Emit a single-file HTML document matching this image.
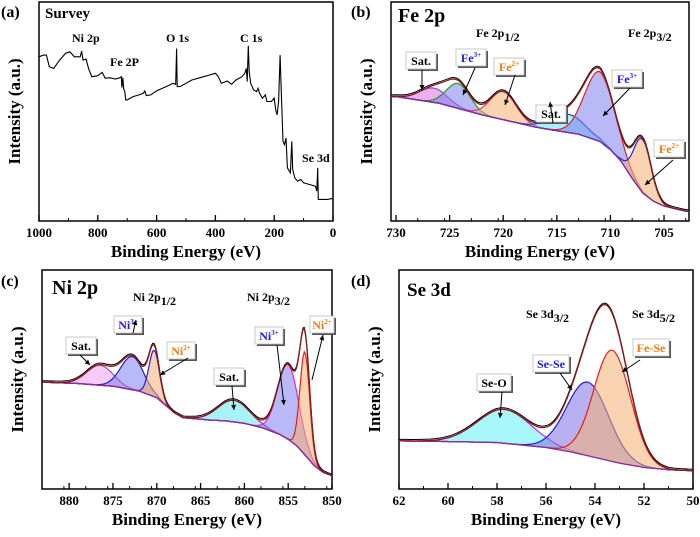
<!DOCTYPE html>
<html><head><meta charset="utf-8">
<style>
body{margin:0;background:#fff;}
svg{display:block;font-family:"Liberation Serif",serif;font-weight:bold;}
</style></head>
<body>
<svg id="fig" width="700" height="537" viewBox="0 0 700 537" xmlns="http://www.w3.org/2000/svg"></svg>
<script>
// ---------- Data (intensity in arbitrary units, 0 = axis bottom, 660 = axis top) ----------
// (a) Survey spectrum
const surveyEnergy = [1000,985,975,965,950,930,910,895,880,860,855,850,840,830,820,800,785,775,760,740,725,720,718,715,712,708,705,700,680,660,645,640,635,620,600,580,560,545,535,532,530,520,500,480,460,440,420,400,390,380,360,345,330,310,300,295,292,288,285,280,270,260,255,250,240,230,225,210,200,195,190,185,180,175,170,165,160,155,145,140,137,130,120,110,100,80,60,55,52,50,40,20,0];
const surveyIntensity = [495,500,500,465,460,485,505,510,495,495,512,485,488,455,435,438,448,430,432,428,432,435,402,432,398,390,365,365,375,380,385,392,378,380,392,400,408,415,412,520,405,405,415,425,430,435,440,445,435,415,422,412,425,435,445,460,420,528,450,415,395,390,400,385,370,380,360,360,370,335,320,360,500,370,240,230,250,160,145,240,155,130,120,125,115,110,105,90,160,65,65,65,68];
const surveyTicks = [1000,800,600,400,200,0];

// (b) Fe 2p
const feBgEnergy = [731,730,726,722,719,717,715,713,711,710,709,708,707,706,705,703,702];
const feBgIntensity = [375,375,355,320,298,283,272,262,240,215,180,130,85,60,45,30,28];
const fePeakNames = ["Sat.","Fe3+","Fe2+","Sat.","Fe3+","Fe2+"];
const fePeakCenters = [726.5,724.2,720.0,714.0,711.0,707.0];
const fePeakHeights = [43,75,85,55,210,160];
const fePeakWidths = [1.3,1.1,1.2,1.6,1.4,0.8];
const feTicks = [730,725,720,715,710,705];

// (c) Ni 2p
const niBgEnergy = [884,883,879,875,872,870,868,867,864,862,860,858,856,855,854,853,852,851,850];
const niBgIntensity = [322,322,318,310,295,275,230,215,208,205,198,185,165,150,130,100,70,50,40];
const niPeakNames = ["Sat.","Ni3+","Ni2+","Sat.","Ni3+","Ni2+"];
const niPeakCenters = [876.5,872.8,870.3,861.2,855.0,853.1];
const niPeakHeights = [60,100,140,65,225,310];
const niPeakWidths = [1.5,1.3,0.6,1.8,1.2,0.55];
const niTicks = [880,875,870,865,860,855,850];

// (d) Se 3d
const seBgEnergy = [62,60,58,56,55,54,53,52,51,50];
const seBgIntensity = [145,143,140,125,112,95,78,65,58,55];
const sePeakNames = ["Se-O","Se-Se","Fe-Se"];
const sePeakCenters = [57.7,54.3,53.3];
const sePeakHeights = [102,222,335];
const sePeakWidths = [1.1,0.85,0.75];
const seTicks = [62,60,58,56,54,52,50];

// ---------- drawing ----------
const NS = "http://www.w3.org/2000/svg";
const fig = document.getElementById('fig');
function mk(tag, attrs, parent){
  const e = document.createElementNS(NS, tag);
  for (const k in attrs) e.setAttribute(k, attrs[k]);
  (parent||fig).appendChild(e);
  return e;
}
function interp(xs, ys, x){
  if (x >= xs[0]) return ys[0];
  for (let i=0;i<xs.length-1;i++){
    if (x <= xs[i] && x >= xs[i+1]){
      const t = (xs[i]-x)/(xs[i]-xs[i+1]);
      return ys[i] + t*(ys[i+1]-ys[i]);
    }
  }
  return ys[ys.length-1];
}
function gauss(x,c,h,w){ return h*Math.exp(-((x-c)*(x-c))/(2*w*w)); }

function makeAxes(P){
  const sx = e => P.l + (P.x0 - e)/(P.x0 - P.x1)*(P.r - P.l);
  const sy = v => P.b - v/660*(P.b - P.t);
  return {sx, sy};
}
function frame(P, ticks, minorStep, name){
  const g = mk('g', {});
  
  
  const {sx} = makeAxes(P);
  const r = mk('rect', {x:P.l, y:P.t, width:P.r-P.l, height:P.b-P.t, fill:'none', stroke:'#000', 'stroke-width':1.5}, g);
  
  
  for (let e = P.x0; e >= P.x1 - 1e-9; e -= minorStep){
    const x = sx(e);
    if (x < P.l-0.5 || x > P.r+0.5) continue;
    mk('line', {x1:x, x2:x, y1:P.b, y2:P.b-3, stroke:'#000', 'stroke-width':1}, g);
  }
  ticks.forEach(tk => {
    const x = sx(tk);
    mk('line', {x1:x, x2:x, y1:P.b, y2:P.b-6, stroke:'#000', 'stroke-width':1.3}, g);
    const t = mk('text', {x:x, y:P.b+16, 'text-anchor':'middle', 'font-size':13}, g);
    t.textContent = tk;
    
    
  });
  const xt = mk('text', {x:(P.l+P.r)/2, y:P.b+36, 'text-anchor':'middle', 'font-size':17}, g);
  xt.textContent = 'Binding Energy (eV)';
  
  
  const cy = (P.t+P.b)/2, cx = P.l - 19;
  const yt = mk('text', {x:cx, y:cy, 'text-anchor':'middle', 'font-size':17, transform:`rotate(-90 ${cx} ${cy})`}, g);
  yt.textContent = 'Intensity (a.u.)';
  
  
  return sx;
}
function text(x,y,str,size,name,fill,anchor){
  const t = mk('text', {x, y, 'font-size':size, fill:fill||'#000', 'text-anchor':anchor||'start'});
  t.textContent = str;
  
  
  return t;
}
function subText(x,y,main,sub,size,name){
  const t = mk('text', {x, y, 'font-size':size});
  
  
  const a = mk('tspan', {}, t); a.textContent = main;
  const b = mk('tspan', {dy:4, 'font-size':size}, t); b.textContent = sub;
}
function labelBox(x,y,w,base,sup,color,name, ax, ay, bx, by){
  const g = mk('g', {});
  
  
  mk('rect', {x:x+2, y:y+2, width:w, height:17, fill:'#555'}, g);
  mk('rect', {x:x, y:y, width:w, height:17, fill:'#fff', stroke:'#bbb', 'stroke-width':0.8}, g);
  const t = mk('text', {x:x+w/2, y:y+13, 'text-anchor':'middle', 'font-size':12, fill:color}, g);
  const a = mk('tspan', {}, t); a.textContent = base;
  if (sup){ const s = mk('tspan', {dy:-5, 'font-size':7}, t); s.textContent = sup; }
  if (ax !== undefined){
    mk('line', {x1:ax, y1:ay, x2:bx, y2:by, stroke:'#000', 'stroke-width':1}, g);
    const ang = Math.atan2(by-ay, bx-ax);
    const hx = bx - 5*Math.cos(ang), hy = by - 5*Math.sin(ang);
    mk('polygon', {points:`${bx},${by} ${hx+2.5*Math.sin(ang)},${hy-2.5*Math.cos(ang)} ${hx-2.5*Math.sin(ang)},${hy+2.5*Math.cos(ang)}`, fill:'#000'}, g);
  }
}

function fitPanel(P, bgE, bgI, centers, heights, widths, fills, strokes, name){
  const {sx, sy} = makeAxes(P);
  const N = 220;
  const es = [];
  for (let i=0;i<=N;i++) es.push(P.x0 - (P.x0-P.x1)*i/N);
  const bg = es.map(e => interp(bgE, bgI, e));
  centers.forEach((c,k) => {
    const top = es.map((e,i) => bg[i] + gauss(e, c, heights[k], widths[k]));
    let d = 'M' + es.map((e,i)=> sx(e).toFixed(1)+','+sy(top[i]).toFixed(1)).join(' L');
    for (let i=N;i>=0;i--) d += ' L'+sx(es[i]).toFixed(1)+','+sy(bg[i]).toFixed(1);
    const p = mk('path', {d: d+'Z', fill:fills[k], 'fill-opacity':0.55, stroke:'none'});
    
    
    const l = mk('path', {d:'M'+es.map((e,i)=> sx(e).toFixed(1)+','+sy(top[i]).toFixed(1)).join(' L'), fill:'none', stroke:strokes[k], 'stroke-width':1.2});
    
    
  });
  const bl = mk('path', {d:'M'+es.map((e,i)=> sx(e).toFixed(1)+','+sy(bg[i]).toFixed(1)).join(' L'), fill:'none', stroke:'#8030a0', 'stroke-width':1.3});
  
  
  const env = es.map((e,i) => bg[i] + centers.reduce((s,c,k)=> s + gauss(e,c,heights[k],widths[k]), 0));
  const raw = mk('path', {d:'M'+es.map((e,i)=> sx(e).toFixed(1)+','+(sy(env[i])-1.5).toFixed(1)).join(' L'), fill:'none', stroke:'#000', 'stroke-width':1});
  
  
  const en = mk('path', {d:'M'+es.map((e,i)=> sx(e).toFixed(1)+','+sy(env[i]).toFixed(1)).join(' L'), fill:'none', stroke:'#8b1a1a', 'stroke-width':1.3});
  
  
}

// Panel (a)
const PA = {l:39, r:333, t:2, b:221, x0:1000, x1:0};
frame(PA, surveyTicks, 100, 'survey');
(function(){
  const {sx, sy} = makeAxes(PA);
  const p = mk('path', {d:'M'+surveyEnergy.map((e,i)=> sx(e).toFixed(1)+','+sy(surveyIntensity[i]).toFixed(1)).join(' L'), fill:'none', stroke:'#000', 'stroke-width':1.1});
  
  
})();
text(1,17,'(a)',16,'panel-label-a');
text(45,18,'Survey',15,'survey-title');
text(72,42,'Ni 2p',12,'survey-ni2p-label');
text(110,66,'Fe 2P',12,'survey-fe2p-label');
text(166,42,'O 1s',12,'survey-o1s-label');
text(240,42,'C 1s',12,'survey-c1s-label');
text(302,162,'Se 3d',12,'survey-se3d-label');

// Panel (b)
const PB = {l:391, r:689, t:2, b:221, x0:730.47, x1:702.67};
frame(PB, feTicks, 2.5, 'fe2p');
fitPanel(PB, feBgEnergy, feBgIntensity, fePeakCenters, fePeakHeights, fePeakWidths,
  ['#e070e0','#8080f0','#f5b070','#60e0f8','#8080f0','#f5b070'],
  ['#9050d0','#20a020','#d04080','#2040c0','#e02020','#2020e0'], 'fe2p');
text(351,17,'(b)',16,'panel-label-b');
text(398,22,'Fe 2p',20,'fe2p-title');
subText(476,37,'Fe 2p','1/2',12,'fe2p-half-label');
subText(628,37,'Fe 2p','3/2',12,'fe2p-threehalf-label');
labelBox(406,52,30,'Sat.','','#000','label-sat-1',422,70,422,90);
labelBox(456,49,30,'Fe','3+','#1a1aee','label-fe3-1',475,68,463,95);
labelBox(494,58,30,'Fe','2+','#f07a10','label-fe2-1',515,75,505,105);
labelBox(536,105,30,'Sat.','','#000','label-sat-2',553,123,550,102);
labelBox(612,70,30,'Fe','3+','#1a1aee','label-fe3-2',630,88,603,116);
labelBox(654,140,30,'Fe','2+','#f07a10','label-fe2-2',673,160,645,185);

// Panel (c)
const PC = {l:42, r:332, t:270, b:489, x0:883.1, x1:850};
frame(PC, niTicks, 2.5, 'ni2p');
fitPanel(PC, niBgEnergy, niBgIntensity, niPeakCenters, niPeakHeights, niPeakWidths,
  ['#f0a0f0','#8080f0','#f5b070','#60e8f0','#8080f0','#f5b070'],
  ['#a050a0','#2020c0','#2020e0','#c02060','#e020e0','#e02020'], 'ni2p');
text(1,286,'(c)',16,'panel-label-c');
text(52,294,'Ni 2p',20,'ni2p-title');
subText(133,301,'Ni 2p','1/2',12,'ni2p-half-label');
subText(247,301,'Ni 2p','3/2',12,'ni2p-threehalf-label');
labelBox(66,337,30,'Sat.','','#000','label-ni-sat-1',80,355,90,365);
labelBox(114,316,28,'Ni','3+','#1a1aee','label-ni3-1',133,333,136,320);
labelBox(167,342,28,'Ni','2+','#f07a10','label-ni2-1',188,358,160,375);
labelBox(214,368,30,'Sat.','','#000','label-ni-sat-2',232,386,234,410);
labelBox(255,327,28,'Ni','3+','#1a1aee','label-ni3-2',277,345,284,405);
labelBox(310,316,24,'Ni','2+','#f07a10','label-ni2-2',312,380,323,335);

// Panel (d)
const PD = {l:399, r:693, t:270, b:489, x0:62, x1:50};
frame(PD, seTicks, 1, 'se3d');
fitPanel(PD, seBgEnergy, seBgIntensity, sePeakCenters, sePeakHeights, sePeakWidths,
  ['#60f0f8','#8070e8','#f5b070'],
  ['#e020e0','#2020d0','#e02020'], 'se3d');
text(351,286,'(d)',16,'panel-label-d');
text(407,296,'Se 3d',19,'se3d-title');
subText(526,318,'Se 3d','3/2',12,'se3d-threehalf-label');
subText(632,318,'Se 3d','5/2',12,'se3d-fivehalf-label');
labelBox(477,374,34,'Se-O','','#000','label-se-o',502,392,500,418);
labelBox(533,355,36,'Se-Se','','#1a1aee','label-se-se',560,373,572,390);
labelBox(633,339,36,'Fe-Se','','#f07a10','label-fe-se',640,360,622,372);
</script>
</body></html>
